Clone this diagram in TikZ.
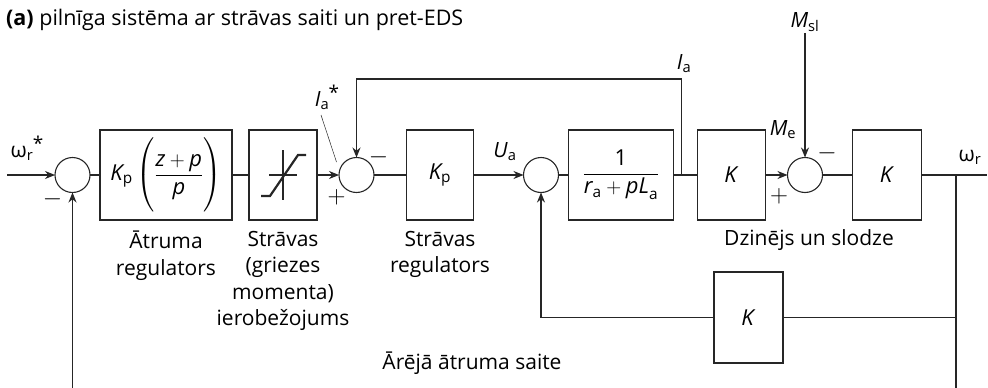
\documentclass[tikz,border=0pt]{standalone}
\usepackage{amsmath}
\usepackage{fontspec}
\setmainfont{Open Sans}
\usetikzlibrary{arrows.meta, positioning, calc}
\definecolor{LineGrey}{HTML}{262626}
\newcommand{\refstar}{\kern-0.5pt\raisebox{7pt}{\fontsize{19}{19}\selectfont *}}

\begin{document}
\begin{tikzpicture}[x=1pt, y=-1pt, font=\fontsize{22}{26}\selectfont, >={Stealth[length=10pt, width=8pt]}]
    \tikzstyle{block} = [rectangle, draw=LineGrey, line width=1.1pt, outer sep=0pt, minimum height=90pt, inner sep=2pt, align=center]
    \tikzstyle{sum} = [circle, draw=LineGrey, line width=1.1pt, outer sep=0pt, minimum size=35pt, inner sep=0pt]
    \tikzstyle{line} = [draw, LineGrey, line width=1.1pt]
    \tikzstyle{arrow} = [draw, ->, LineGrey, line width=1.1pt]
    \tikzstyle{caption} = [align=center, inner sep=0pt, font=\fontsize{21}{26.5}\selectfont]
    \tikzstyle{sign} = [inner sep=0pt, font=\fontsize{25}{25}\selectfont]
    \tikzstyle{signal} = [inner sep=1pt, font=\fontsize{21}{24}\selectfont]

    \useasboundingbox (0,0) rectangle (988,388);
    \node [anchor=west, inner sep=0pt, font=\fontsize{21.5}{26}\selectfont] (title) at (6,20) {\textbf{(a)} pilnīga sistēma ar strāvas saiti un pret-EDS};

    % forward path
    \coordinate (in) at (7,175);
    \node [sum] (sum1) at (72.5,175) {};
    \node [block, minimum width=132pt, right=10pt of sum1] (speedreg) {$\textit{K}_{\text{p}}\left(\dfrac{\textit{z}+\textit{p}}{\textit{p}}\vphantom{\rule[-31pt]{0pt}{70pt}}\right)$};
    \node [block, minimum width=68pt, right=17pt of speedreg] (limiter) {};
    \node [sum, right=22pt of limiter] (sum2) {};
    \node [block, minimum width=67pt, right=32.5pt of sum2] (curreg) {$\textit{K}_{\text{p}}$};
    \node [sum, right=50pt of curreg] (sum3) {};
    \node [block, minimum width=105pt, right=10pt of sum3] (armature) {$\dfrac{\text{1}}{\textit{r}_{\text{a}}+\textit{pL}_{\text{a}}}$};
    \node [block, minimum width=68pt, right=24pt of armature] (torque) {\textit{K}};
    \node [sum, right=22pt of torque] (sum4) {};
    \node [block, minimum width=69pt, right=30pt of sum4] (inertia) {\textit{K}};
    \node [block, minimum width=69pt, minimum height=91pt] (emf) at (748.5,317.5) {\textit{K}};

    % limiter characteristic
    \begin{scope}[shift={(limiter.center)}]
        \draw [LineGrey, line width=1.1pt] (0,-25) -- (0,25) (-14,0) -- (14,0);
        \draw [LineGrey, line width=2.2pt] (-22,21) -- (-13,21) -- (15,-20) -- (23,-20);
    \end{scope}

    % helper points
    \coordinate (iatap) at ($(armature.east)!0.33!(torque.west)$);
    \coordinate (wtap) at (956,175);
    \coordinate (out) at (987,175);
    \coordinate (toprow) at (0,79);
    \coordinate (bottom) at (0,388);

    % signal labels
    \node [signal] (wref) at (27,148) {ω$_{\text{r}}$\refstar};
    \node [signal] (iaref) at (327,97) {\textit{I}$_{\text{a}}$\refstar};
    \node [signal] (ua) at (505,152) {\textit{U}$_{\text{a}}$};
    \node [signal] (ia) at (684,64) {\textit{I}$_{\text{a}}$};
    \node [signal] (me) at (783,130) {\textit{M}$_{\text{e}}$};
    \node [signal] (msl) at (805,22) {\textit{M}$_{\text{sl}}$};
    \node [signal] (wr) at (970,157) {ω$_{\text{r}}$};

    % signs
    \node [sign] (s1minus) at ($(sum1)+(-20,24)$) {$-$};
    \node [sign] (s2plus) at ($(sum2)+(-20,22)$) {$+$};
    \node [sign] (s2minus) at ($(sum2)+(22,-18)$) {$-$};
    \node [sign] (s4plus) at ($(sum4)+(-26,21)$) {$+$};
    \node [sign] (s4minus) at ($(sum4)+(22,-22)$) {$-$};

    % captions
    \node [caption, below=11pt of speedreg] (cap1) {Ātruma\\regulators};
    \node [caption, below=11pt of limiter] (cap2) {Strāvas\\(griezes\\momenta)\\ierobežojums};
    \node [caption, below=11pt of curreg] (cap3) {Strāvas\\regulators};
    \node [caption] (cap4) at (809,240) {Dzinējs un slodze};
    \node [caption] (cap5) at (472,363) {Ārējā ātruma saite};

    % connections
    \path [arrow] (in) -- (sum1);
    \path [line] (sum1) -- (speedreg);
    \path [line] (speedreg) -- (limiter);
    \path [arrow] (limiter) -- (sum2);
    \path [line] (sum2) -- (curreg);
    \path [arrow] (curreg) -- (sum3);
    \path [line] (sum3) -- (armature);
    \path [line] (armature) -- (torque);
    \path [arrow] (torque) -- (sum4);
    \path [line] (sum4) -- (inertia);
    \path [line] (inertia) -- (out);
    \path [arrow] (sum4 |- msl.south) -- (sum4);
    \path [arrow] (iatap) -- (iatap |- toprow) -| (sum2);
    \path [line] (wtap) -- (wtap |- bottom);
    \path [line] (wtap |- emf) -- (emf);
    \path [arrow] (emf) -| (sum3);
    \path [arrow] (sum1 |- bottom) -- (sum1);
    \draw [LineGrey, line width=0.5pt] ($(iaref)+(-6,18)$) -- ($(sum2)+(-20,-13)$);
\end{tikzpicture}
\end{document}
